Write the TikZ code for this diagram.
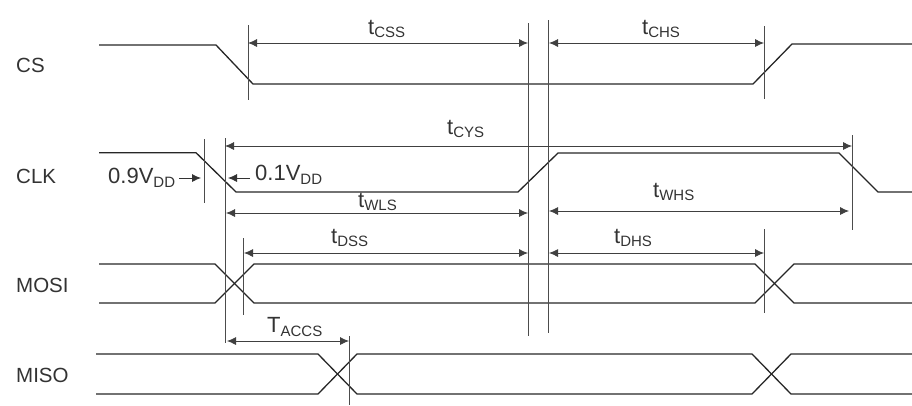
\documentclass[tikz,border=0pt]{standalone}
\usepackage{fontspec}
\setmainfont{Liberation Sans}
\usetikzlibrary{arrows.meta}
\tikzset{
  wave/.style={draw=black!85,line width=1.3pt,line join=miter},
  guide/.style={draw=black!70,line width=0.8pt},
  dim/.style={draw=black!75,line width=0.8pt,{Latex[length=9pt,width=8pt]}-{Latex[length=9pt,width=8pt]}},
  oneway/.style={draw=black!80,line width=0.8pt,-{Latex[length=9pt,width=8pt]}},
  sig/.style={font=\fontsize{20.5}{24}\selectfont,text=black!80,inner sep=0pt,anchor=base west},
  lab/.style={font=\fontsize{22}{26}\selectfont,text=black!80,inner sep=0pt,anchor=base west}
}
\newcommand{\tsub}[2]{#1\raisebox{-3pt}{\fontsize{15}{17}\selectfont #2}}
\newcommand{\vsub}[2]{#1\raisebox{-4pt}{\fontsize{15}{17}\selectfont #2}}
\begin{document}
\begin{tikzpicture}[x=1pt,y=-1pt]
\useasboundingbox (0,0) rectangle (912,405);
% signal names
\node[sig] (cs) at (16,72) {CS};
\node[sig] (clk) at (16,183) {CLK};
\node[sig] (mosi) at (16,292) {MOSI};
\node[sig] (miso) at (16,382) {MISO};
% waves
\draw[wave] (99,45)--(216,45)--(253,84)--(753,84)--(792,44)--(912,44);
\draw[wave] (99,152.7)--(196,152.7)--(236,192)--(518,192)--(558,153)--(839,153)--(878,192)--(912,192);
\draw[wave] (99,264)--(215,264)--(254,303)--(755,303)--(794,264)--(912,264);
\draw[wave] (99,303)--(215,303)--(254,264)--(755,264)--(794,303)--(912,303);
\draw[wave] (96,354)--(318,354)--(357,394)--(752,394)--(791,354)--(912,354);
\draw[wave] (96,394)--(318,394)--(357,354)--(752,354)--(791,394)--(912,394);
% guides
\coordinate (g1a) at (248,25); \coordinate (g1b) at (248,100);
\coordinate (g2a) at (528,23); \coordinate (g2b) at (528,336);
\coordinate (g3a) at (548.5,20); \coordinate (g3b) at (548.5,333);
\coordinate (g4a) at (764,26); \coordinate (g4b) at (764,99);
\coordinate (g5a) at (204.5,139); \coordinate (g5b) at (204.5,203);
\coordinate (g6a) at (225,138); \coordinate (g6b) at (225,343);
\coordinate (g7a) at (852,135); \coordinate (g7b) at (852,230);
\coordinate (g8a) at (243.5,238); \coordinate (g8b) at (243.5,315);
\coordinate (g9a) at (764,229); \coordinate (g9b) at (764,313);
\coordinate (g10a) at (349,336); \coordinate (g10b) at (349,405);
\foreach \n in {1,...,10} \draw[guide] (g\n a)--(g\n b);
% dimensions
\coordinate (d1a) at (248,43); \coordinate (d1b) at (528,43);
\coordinate (d2a) at (549,43); \coordinate (d2b) at (764,43);
\coordinate (d3a) at (225,146); \coordinate (d3b) at (852,146);
\coordinate (d4a) at (226,213); \coordinate (d4b) at (528,213);
\coordinate (d5a) at (549,211); \coordinate (d5b) at (849,211);
\coordinate (d6a) at (244,253); \coordinate (d6b) at (528,253);
\coordinate (d7a) at (549,253); \coordinate (d7b) at (764,253);
\coordinate (d8a) at (227,341); \coordinate (d8b) at (349,341);
\foreach \n in {1,...,8} \draw[dim] (d\n a)--(d\n b);
% small threshold arrows
\coordinate (th1a) at (179,178); \coordinate (th1b) at (201,178);
\coordinate (th2a) at (250,178); \coordinate (th2b) at (228,178);
\draw[oneway] (th1a)--(th1b);
\draw[oneway] (th2a)--(th2b);
% labels
\node[lab] (tcss) at (368,34) {\tsub{t}{CSS}};
\node[lab] (tchs) at (642,34) {\tsub{t}{CHS}};
\node[lab] (tcys) at (447,134) {\tsub{t}{CYS}};
\node[lab] (twls) at (358,207) {\tsub{t}{WLS}};
\node[lab] (twhs) at (653,197) {\tsub{t}{WHS}};
\node[lab] (tdss) at (331,243) {\tsub{t}{DSS}};
\node[lab] (tdhs) at (614,243) {\tsub{t}{DHS}};
\node[lab] (tacc) at (267,332) {\vsub{T}{ACCS}};
\node[lab] (v09) at (108,183) {\vsub{0.9V}{DD}};
\node[lab] (v01) at (255,180) {\vsub{0.1V}{DD}};
\end{tikzpicture}
\end{document}
